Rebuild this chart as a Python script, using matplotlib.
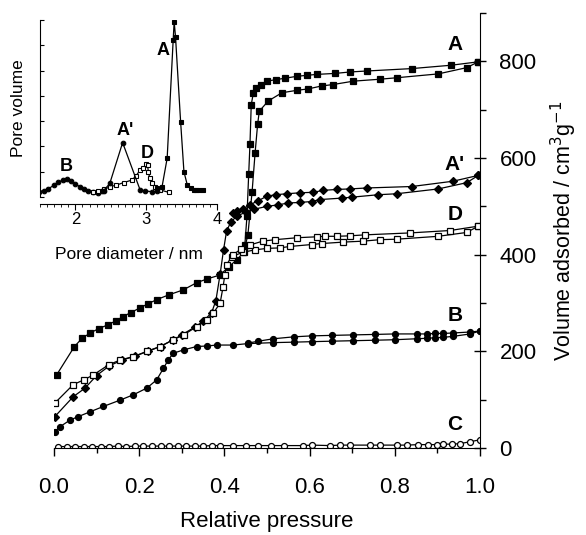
import matplotlib
matplotlib.use('Agg')
import matplotlib.pyplot as plt
from matplotlib.ticker import MultipleLocator

plt.rcParams['font.family'] = ['Liberation Sans', 'DejaVu Sans']

# ---- isotherms (relative pressure, volume adsorbed cm3/g) ----
# sample A, filled squares
A_ads_p = [0.006, 0.048, 0.066, 0.085, 0.105, 0.127, 0.145, 0.162, 0.18, 0.202, 0.22, 0.241, 0.27,
           0.303, 0.335, 0.36, 0.39, 0.41, 0.43, 0.445, 0.455, 0.465, 0.472, 0.478, 0.482, 0.503,
           0.535, 0.57, 0.597, 0.628, 0.655, 0.703, 0.765, 0.804, 0.902, 0.969, 0.996]
A_ads_v = [151, 210, 227, 238, 247, 255, 263, 272, 280, 290, 298, 307, 317,
           327, 342, 350, 358, 375, 390, 405, 440, 530, 610, 670, 697, 718,
           735, 740, 743, 749, 752, 759, 763, 766, 774, 787, 799]
A_des_p = [0.996, 0.933, 0.84, 0.734, 0.695, 0.66, 0.617, 0.593, 0.57, 0.542, 0.52, 0.5, 0.485,
           0.475, 0.468, 0.463, 0.46, 0.457, 0.453, 0.448]
A_des_v = [799, 792, 785, 780, 778, 775, 773, 771, 769, 765, 762, 759, 752,
           745, 735, 710, 628, 566, 480, 420]

# sample A', filled diamonds
Ap_ads_p = [0.002, 0.045, 0.073, 0.1, 0.13, 0.16, 0.19, 0.22, 0.25, 0.28, 0.30, 0.33, 0.35, 0.37,
            0.38, 0.39, 0.398, 0.405, 0.415, 0.43, 0.45, 0.47, 0.5, 0.526, 0.55, 0.577, 0.605,
            0.624, 0.675, 0.70, 0.761, 0.804, 0.902, 0.969, 0.996]
Ap_ads_v = [65, 106, 124, 150, 170, 182, 190, 200, 210, 224, 234, 250, 262, 280,
            305, 360, 410, 448, 468, 480, 488, 494, 500, 503, 507, 508, 510,
            514, 517, 519, 524, 526, 536, 549, 564]
Ap_des_p = [0.996, 0.937, 0.84, 0.734, 0.695, 0.664, 0.632, 0.608, 0.577, 0.546, 0.52, 0.5, 0.48,
            0.46, 0.444, 0.43, 0.421]
Ap_des_v = [564, 552, 541, 538, 536, 535, 533, 529, 528, 526, 524, 521, 512,
            503, 495, 490, 486]

# sample D, open squares
D_ads_p = [0.002, 0.045, 0.07, 0.092, 0.128, 0.155, 0.186, 0.218, 0.249, 0.28, 0.304, 0.335, 0.358,
           0.374, 0.39, 0.397, 0.401, 0.405, 0.417, 0.444, 0.472, 0.5, 0.53, 0.554, 0.605, 0.628,
           0.679, 0.726, 0.765, 0.804, 0.902, 0.969, 0.996]
D_ads_v = [93, 131, 141, 151, 172, 182, 189, 200, 210, 224, 234, 251, 265,
           279, 300, 334, 358, 379, 396, 405, 410, 413, 414, 417, 421, 423,
           426, 428, 431, 432, 438, 446, 459]
D_des_p = [0.996, 0.93, 0.836, 0.73, 0.695, 0.664, 0.636, 0.617, 0.57, 0.519, 0.49, 0.46, 0.44, 0.42]
D_des_v = [459, 450, 445, 441, 439, 438, 438, 437, 435, 431, 428, 420, 412, 400]

# sample B, filled circles
B_ads_p = [0.002, 0.014, 0.038, 0.057, 0.085, 0.116, 0.155, 0.186, 0.218, 0.241, 0.257, 0.268, 0.28,
           0.304, 0.335, 0.358, 0.382, 0.42, 0.455, 0.515, 0.563, 0.605, 0.652, 0.703, 0.754,
           0.80, 0.851, 0.875, 0.894, 0.914, 0.937, 0.977, 1.0]
B_ads_v = [34, 44, 58, 65, 75, 86, 99, 110, 124, 141, 165, 182, 196,
           203, 210, 211, 213, 213, 216, 218, 219, 220, 221, 222, 223,
           224, 226, 227, 228, 229, 231, 236, 242]
B_des_p = [1.0, 0.977, 0.937, 0.914, 0.894, 0.875, 0.851, 0.80, 0.754, 0.703, 0.652, 0.605, 0.563,
           0.515, 0.48, 0.455]
B_des_v = [242, 240, 238, 237, 237, 236, 236, 236, 235, 234, 233, 232, 230,
           226, 221, 217]

# sample C, open circles
C_p = [0.01, 0.03, 0.05, 0.07, 0.09, 0.11, 0.13, 0.15, 0.17, 0.19, 0.21, 0.23, 0.25, 0.27, 0.29,
       0.31, 0.33, 0.35, 0.37, 0.39, 0.42, 0.45, 0.48, 0.51, 0.54, 0.585, 0.605, 0.648, 0.671,
       0.695, 0.742, 0.765, 0.805, 0.829, 0.855, 0.878, 0.899, 0.913, 0.934, 0.953, 0.977, 1.0]
C_v = [3, 3, 3, 3, 3, 3, 3, 4, 3, 4, 4, 4, 4, 4, 4,
       4, 4, 4, 5, 5, 5, 5, 5, 5, 5, 5, 6, 5, 6,
       6, 6, 6, 6, 6, 7, 7, 7, 8, 8, 9, 13, 17]

# ---- pore size distribution (inset) ----
psdA_d = [3.153, 3.224, 3.296, 3.381, 3.395, 3.414, 3.486, 3.533, 3.581, 3.629, 3.67, 3.71, 3.75, 3.796]
psdA_v = [0.34, 0.41, 1.53, 6.21, 6.93, 6.34, 2.98, 1.0, 0.47, 0.34, 0.28, 0.28, 0.28, 0.28]

psdAp_d = [2.40, 2.486, 2.667, 2.914, 2.986, 3.08, 3.15]
psdAp_v = [0.25, 0.54, 2.15, 0.28, 0.24, 0.21, 0.22]

psdD_d = [2.25, 2.32, 2.41, 2.49, 2.58, 2.68, 2.80, 2.86, 2.91, 2.96, 3.00, 3.02, 3.03, 3.05,
          3.08, 3.12, 3.2, 3.32]
psdD_v = [0.21, 0.22, 0.30, 0.41, 0.47, 0.57, 0.67, 0.85, 1.05, 1.15, 1.30, 1.25, 1.0, 0.75,
          0.55, 0.4, 0.28, 0.18]

psdB_d = [1.49, 1.55, 1.62, 1.70, 1.76, 1.82, 1.88, 1.94, 2.0, 2.06, 2.12, 2.18, 2.25, 2.32, 2.38]
psdB_v = [0.21, 0.25, 0.33, 0.47, 0.58, 0.67, 0.71, 0.64, 0.52, 0.41, 0.3, 0.23, 0.2, 0.16, 0.22]

fig = plt.figure(figsize=(5.86, 5.35), dpi=100)
ax = fig.add_axes([54/586, 87/535, 426/586, 435/535])

line_kw = dict(color='black', lw=0.9, ms=4.3, mew=0.9)
ax.plot(A_ads_p, A_ads_v, marker='s', **line_kw)
ax.plot(A_des_p, A_des_v, marker='s', **line_kw)
ax.plot(Ap_ads_p, Ap_ads_v, marker='D', **dict(line_kw, ms=3.8))
ax.plot(Ap_des_p, Ap_des_v, marker='D', **dict(line_kw, ms=3.8))
ax.plot(D_ads_p, D_ads_v, marker='s', mfc='white', **line_kw)
ax.plot(D_des_p, D_des_v, marker='s', mfc='white', **line_kw)
ax.plot(B_ads_p, B_ads_v, marker='o', **line_kw)
ax.plot(B_des_p, B_des_v, marker='o', **line_kw)
ax.plot(C_p, C_v, marker='o', mfc='white', **line_kw)

ax.set_xlim(0, 1)
ax.set_ylim(0, 900)
ax.spines['left'].set_visible(False)
ax.spines['top'].set_visible(False)
ax.yaxis.tick_right()
ax.yaxis.set_label_position('right')
ax.xaxis.set_major_locator(MultipleLocator(0.2))
ax.xaxis.set_minor_locator(MultipleLocator(0.1))
ax.yaxis.set_major_locator(MultipleLocator(200))
ax.yaxis.set_minor_locator(MultipleLocator(100))
ax.set_xticklabels(['%.1f' % t for t in ax.get_xticks()])
ax.tick_params(axis='x', which='major', direction='out', length=6, width=1, pad=15, labelsize=16)
ax.tick_params(axis='x', which='minor', direction='out', length=3.5, width=1)
ax.tick_params(axis='y', which='major', direction='inout', length=8, width=1, pad=10, labelsize=16)
ax.tick_params(axis='y', which='minor', direction='out', length=4, width=1)
ax.set_xlabel('Relative pressure', fontsize=16, labelpad=9)
ax.set_ylabel('Volume adsorbed / cm$^3$g$^{-1}$', fontsize=15.5, labelpad=9)

lab_kw = dict(fontsize=15, fontweight='bold', ha='center', va='center')
ax.text(0.941, 835, 'A', **lab_kw)
ax.text(0.941, 587, "A'", **lab_kw)
ax.text(0.941, 483, 'D', **lab_kw)
ax.text(0.941, 274, 'B', **lab_kw)
ax.text(0.941, 48, 'C', **lab_kw)

# inset
ins = fig.add_axes([40/586, (535-197)/535, 177/586, 177/535])
ins.patch.set_alpha(0)
ins_kw = dict(color='black', lw=0.9, ms=3.3, mew=0.8)
ins.plot(psdB_d, psdB_v, marker='o', **ins_kw)
ins.plot(psdD_d, psdD_v, marker='s', mfc='white', **ins_kw)
ins.plot(psdAp_d, psdAp_v, marker='o', **ins_kw)
ins.plot(psdA_d, psdA_v, marker='s', **ins_kw)
ins.set_xlim(1.5, 4)
ins.set_ylim(0, 7)
ins.spines['top'].set_visible(False)
ins.spines['right'].set_visible(False)
ins.spines['bottom'].set_position(('outward', 5))
ins.xaxis.set_major_locator(MultipleLocator(1))
ins.xaxis.set_minor_locator(MultipleLocator(0.1))
ins.yaxis.set_major_locator(MultipleLocator(1))
ins.tick_params(axis='x', which='major', direction='out', length=4, pad=2, labelsize=12)
ins.tick_params(axis='x', which='minor', direction='out', length=2)
ins.tick_params(axis='y', direction='in', length=3, labelleft=False)
ins.set_xlabel('Pore diameter / nm', fontsize=12.5, labelpad=14)
ins.set_ylabel('Pore volume', fontsize=12.5, labelpad=10)

ilab_kw = dict(fontsize=13, fontweight='bold', ha='center', va='center')
ins.text(3.243, 5.81, 'A', **ilab_kw)
ins.text(2.70, 2.62, "A'", **ilab_kw)
ins.text(3.01, 1.73, 'D', **ilab_kw)
ins.text(1.876, 1.2, 'B', **ilab_kw)

fig.savefig('out.png', dpi=100)
